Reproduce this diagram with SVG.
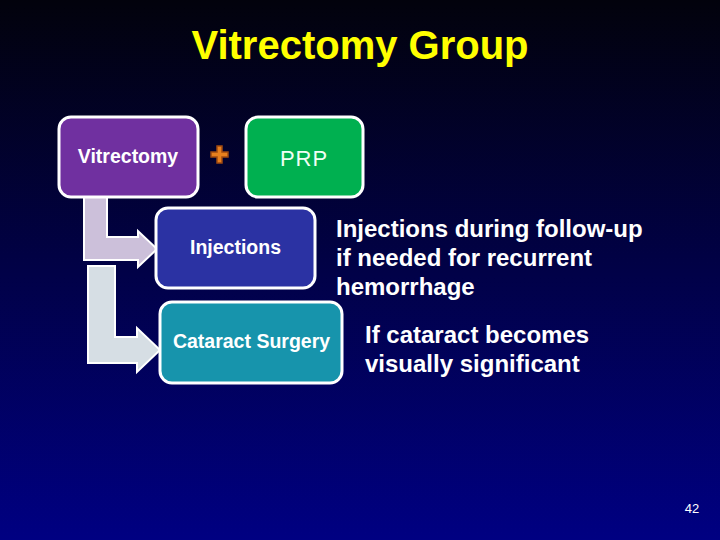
<svg xmlns="http://www.w3.org/2000/svg" width="720" height="540" viewBox="0 0 720 540">
<defs>
<linearGradient id="bg" x1="0" y1="0" x2="0" y2="1">
<stop offset="0" stop-color="#02020C"/>
<stop offset="1" stop-color="#000082"/>
</linearGradient>
</defs>
<style>
.box{stroke:#FFFFFF;stroke-width:3}
.lbl{font-family:"Liberation Sans",Arial,sans-serif;font-weight:bold;font-size:19.5px;fill:#FFFFFF;text-anchor:middle}
.note{font-family:"Liberation Sans",Arial,sans-serif;font-weight:bold;font-size:24px;fill:#FFFFFF}
.arrow{stroke:#FFFFFF;stroke-width:2;stroke-linejoin:miter}
</style>
<rect x="0" y="0" width="720" height="540" fill="url(#bg)"/>
<text x="360" y="59" font-family="'Liberation Sans',Arial,sans-serif" font-weight="bold" font-size="40" fill="#FFFF00" text-anchor="middle">Vitrectomy Group</text>
<g id="connectors">
<path class="arrow" fill="#CCC0DA" d="M84,197 L107,197 L107,237 L138,237 L138,231 L157,249 L138,267 L138,260 L84,260 Z"/>
<path class="arrow" fill="#D6DEE4" d="M88,266 L115,266 L115,337 L137,337 L137,328 L160,350 L137,372 L137,363 L88,363 Z"/>
</g>
<g id="vitrectomy">
<rect class="box" x="59" y="117" width="139" height="80" rx="12" fill="#7030A0"/>
<text class="lbl" x="128" y="163">Vitrectomy</text>
</g>
<g id="plus">
<path d="M217,146 L222,146 L222,152 L228,152 L228,157 L222,157 L222,163 L217,163 L217,157 L211,157 L211,152 L217,152 Z" fill="#E8801E" stroke="#A04A10" stroke-width="1.5"/>
</g>
<g id="prp">
<rect class="box" x="246" y="117" width="117" height="80" rx="12" fill="#00B050"/>
<text x="304" y="166" font-family="'Liberation Sans',Arial,sans-serif" font-size="22" letter-spacing="1" fill="#F0FFF4" text-anchor="middle">PRP</text>
</g>
<g id="injections">
<rect class="box" x="156" y="208" width="159" height="80" rx="12" fill="#2B32A3"/>
<text class="lbl" x="235.5" y="254">Injections</text>
</g>
<g id="cataract">
<rect class="box" x="160" y="302" width="182" height="81" rx="12" fill="#1794AC"/>
<text class="lbl" x="251.5" y="348">Cataract Surgery</text>
</g>
<g id="note1">
<text class="note" x="336" y="237">Injections during follow-up</text>
<text class="note" x="336" y="266">if needed for recurrent</text>
<text class="note" x="336" y="295">hemorrhage</text>
</g>
<g id="note2">
<text class="note" x="365" y="343">If cataract becomes</text>
<text class="note" x="365" y="372">visually significant</text>
</g>
<text x="692" y="513" font-family="'Liberation Sans',Arial,sans-serif" font-size="13" fill="#FFFFFF" text-anchor="middle">42</text>
</svg>
